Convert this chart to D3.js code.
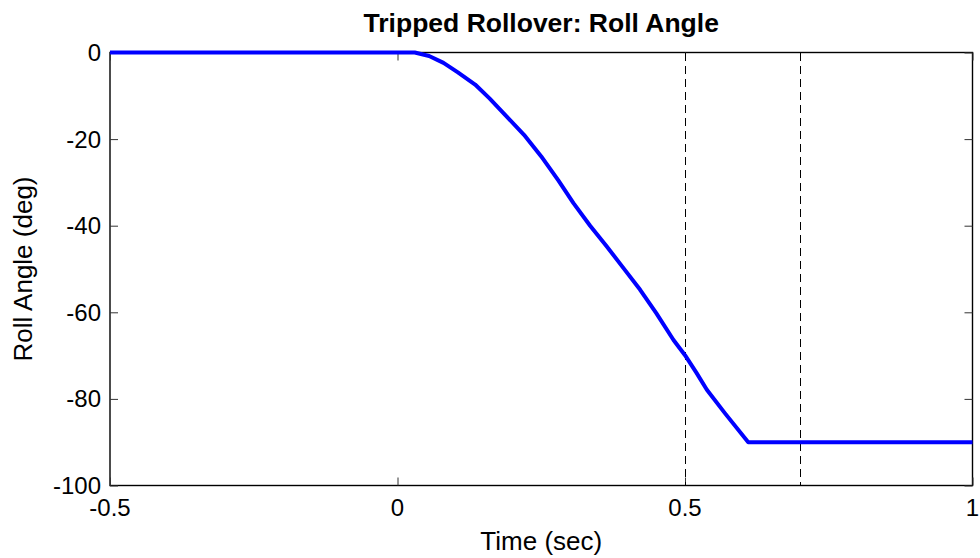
<!DOCTYPE html>
<html>
<head>
<meta charset="utf-8">
<script src="https://cdn.jsdelivr.net/npm/d3@7"></script>
<style>
  html, body { margin: 0; padding: 0; background: #fff; }
  svg { display: block; font-family: "Liberation Sans", Arial, Helvetica, sans-serif; }
</style>
</head>
<body>
<svg id="chart" width="980" height="558"></svg>
<script>
// ---- data ----
const time  = [-0.5, 0.03, 0.055, 0.08, 0.105, 0.135, 0.16, 0.19, 0.22, 0.25, 0.28, 0.306, 0.335, 0.364, 0.393, 0.422, 0.45, 0.48, 0.5, 0.52, 0.538, 0.57, 0.61, 1.0];
const angle = [0, 0, -0.8, -2.4, -4.6, -7.4, -10.6, -14.8, -19.0, -24.0, -29.6, -34.8, -40.0, -44.8, -49.8, -54.8, -60.2, -66.4, -69.9, -74.0, -77.9, -83.4, -90, -90];
const markerTimes = [0.5, 0.7];
const xTicks = [-0.5, 0, 0.5, 1];
const yTicks = [-100, -80, -60, -40, -20, 0];
const titleText = "Tripped Rollover: Roll Angle";
const xLabelText = "Time (sec)";
const yLabelText = "Roll Angle (deg)";

// ---- layout ----
const pL = 110, pR = 972.5, pT = 52.5, pB = 485.5;
const svg = d3.select("#chart");
const x = d3.scaleLinear().domain([-0.5, 1]).range([pL, pR]);
const y = d3.scaleLinear().domain([-100, 0]).range([pB, pT]);
const tickLen = 8;
const fmt = d => String(d);

// frame box
svg.append("rect")
  .attr("x", pL).attr("y", pT)
  .attr("width", pR - pL).attr("height", pB - pT)
  .attr("fill", "none").attr("stroke", "#000").attr("stroke-width", 1.4);

// axes (ticks inward)
const gx = svg.append("g").attr("transform", `translate(0,${pB})`)
  .call(d3.axisTop(x).tickValues(xTicks).tickSize(tickLen).tickFormat(""));
const gxt = svg.append("g").attr("transform", `translate(0,${pT})`)
  .call(d3.axisBottom(x).tickValues(xTicks).tickSize(tickLen).tickFormat(""));
const gy = svg.append("g").attr("transform", `translate(${pL},0)`)
  .call(d3.axisRight(y).tickValues(yTicks).tickSize(tickLen).tickFormat(""));
const gyr = svg.append("g").attr("transform", `translate(${pR},0)`)
  .call(d3.axisLeft(y).tickValues(yTicks).tickSize(tickLen).tickFormat(""));
[gx, gxt, gy, gyr].forEach(g => {
  g.select(".domain").remove();
  g.selectAll("line").attr("stroke", "#333").attr("stroke-width", 1);
});

// tick labels
svg.append("g").selectAll("text").data(xTicks).join("text")
  .attr("x", d => x(d)).attr("y", pB + 30)
  .attr("text-anchor", "middle")
  .attr("font-size", 24).attr("fill", "#000")
  .text(fmt);
svg.append("g").selectAll("text").data(yTicks).join("text")
  .attr("x", pL - 9).attr("y", d => y(d) + 8.5)
  .attr("text-anchor", "end")
  .attr("font-size", 24).attr("fill", "#000")
  .text(fmt);

// dashed marker lines
svg.append("g").selectAll("line").data(markerTimes).join("line")
  .attr("x1", d => x(d)).attr("x2", d => x(d))
  .attr("y1", pT).attr("y2", pB)
  .attr("stroke", "#000").attr("stroke-width", 1)
  .attr("shape-rendering", "crispEdges")
  .attr("stroke-dasharray", "8,5");

// curve
const line = d3.line().x((d, i) => x(time[i])).y(d => y(d));
svg.append("path")
  .datum(angle)
  .attr("d", line)
  .attr("fill", "none")
  .attr("stroke", "#0000ff")
  .attr("stroke-width", 4)
  .attr("stroke-linejoin", "round");

// title & labels
svg.append("text")
  .attr("x", (pL + pR) / 2).attr("y", 32)
  .attr("text-anchor", "middle")
  .attr("font-size", 26.5).attr("font-weight", "bold")
  .text(titleText);
svg.append("text")
  .attr("x", (pL + pR) / 2).attr("y", 550)
  .attr("text-anchor", "middle")
  .attr("font-size", 26)
  .text(xLabelText);
svg.append("text")
  .attr("transform", `translate(32,${(pT + pB) / 2}) rotate(-90)`)
  .attr("text-anchor", "middle")
  .attr("font-size", 26)
  .text(yLabelText);
</script>
</body>
</html>
